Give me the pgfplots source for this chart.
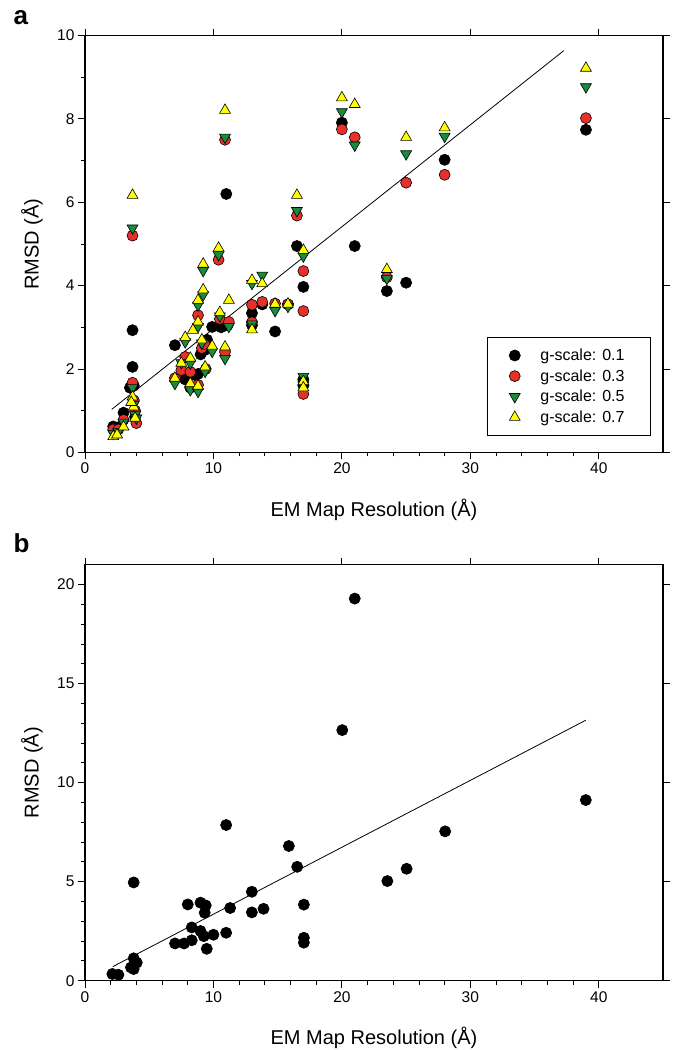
\documentclass[border=0pt]{standalone}
\usepackage{fontspec}
\setmainfont{Liberation Sans}
\usepackage{pgfplots}
\pgfplotsset{compat=1.18}
\definecolor{rred}{HTML}{E8302A}
\definecolor{ggreen}{HTML}{1A8A3C}
\definecolor{yyel}{HTML}{FFFF00}
\pgfplotsset{
 myaxis/.style={
  scale only axis, width=578pt, xmin=0, xmax=45, xtick={0,10,...,40}, minor x tick num=4,
  tick align=outside, xtick pos=left, ytick pos=left,
  major tick length=7pt, minor tick length=4pt,
  every tick/.style={black, line width=0.9pt},
  axis line style={line width=1.3pt},
  xticklabel style={font=\fontsize{15.5}{18}\selectfont},
  yticklabel style={font=\fontsize{15.5}{18}\selectfont},
  /pgf/number format/assume math mode=true,
  every axis x label/.style={at={(axis description cs:0.5,-0.137)}, anchor=center, font=\fontsize{20}{24}\selectfont},
  every axis y label/.style={at={(axis description cs:-0.0917,0.5)}, rotate=90, anchor=center, font=\fontsize{20}{24}\selectfont},
  xlabel={EM Map Resolution (Å)}, ylabel={RMSD (Å)},
 },
 topaxis/.style={
  scale only axis, width=578pt, xmin=0, xmax=45, xtick={0,10,...,40},
  tick align=outside, xtick pos=right, ytick pos=right,
  major tick length=7pt, every tick/.style={black, line width=0.9pt},
  xticklabel=\empty, yticklabel=\empty, axis line style={draw=none},
 },
 sblack/.style={only marks, mark=*, mark size=5.6pt, mark options={draw=black, fill=black, line width=0.6pt}},
 sred/.style={only marks, mark=*, mark size=5.5pt, mark options={draw=black, fill=rred, line width=0.6pt}},
 sgreen/.style={only marks, mark=triangle*, mark size=6.3pt, mark options={rotate=180, draw=black, fill=ggreen, line width=0.6pt}},
 syel/.style={only marks, mark=triangle*, mark size=6.3pt, mark options={draw=black, fill=yyel, line width=0.6pt}},
}
\newcommand{\lf}{\fontsize{16}{19}\selectfont}
\begin{document}
\begin{tikzpicture}
\useasboundingbox (0pt,0pt) rectangle (679pt,-1050pt);
\node[anchor=base west, font=\bfseries\fontsize{26}{30}\selectfont] at (10pt,-24pt) {a};
\node[anchor=base west, font=\bfseries\fontsize{26}{30}\selectfont] at (10pt,-552pt) {b};
% ---------- panel a ----------
\begin{axis}[myaxis, at={(85pt,-452.3pt)}, anchor=south west, height=416.7pt,
  ymin=0, ymax=10, ytick={0,2,...,10}, minor y tick num=1,
  legend style={at={(0.695,0.2767)}, anchor=north west, draw=black, line width=0.9pt,
    font=\lf, inner xsep=22pt, inner ysep=10pt, row sep=4.5pt,
    nodes={inner xsep=4pt, inner ysep=1.5pt},
    /tikz/every odd column/.append style={column sep=16pt}},
  legend cell align=left]
\addplot[sblack] coordinates {
(2.2,0.62) (2.6,0.60) (3.0,0.95) (3.5,1.55) (3.7,2.93) (3.7,2.05) (3.8,1.6) (3.9,0.85)
(7.0,2.57) (7.8,1.75) (8.2,1.55) (8.6,1.85) (8.8,1.88) (9.0,2.35) (9.3,2.45) (9.5,2.7)
(9.9,3.01) (10.6,3.0) (11.0,6.2) (11.1,3.05) (13.0,3.34) (13.0,3.05) (13.8,3.55) (14.8,2.90)
(15.8,3.55) (16.5,4.95) (17.0,3.97) (17.0,1.75) (17.0,1.6) (20.0,7.91) (21.0,4.95)
(23.5,3.87) (25.0,4.07) (28.0,7.02) (39.0,7.74)};
\addlegendentry{\lf g-scale: 0.1}
\addplot[sred] coordinates {
(2.2,0.55) (2.6,0.55) (3.0,0.78) (3.7,5.2) (3.7,1.67) (3.8,1.25) (3.9,1.0) (4.0,0.7)
(7.0,1.78) (7.8,2.29) (7.5,1.97) (8.2,1.93) (8.2,1.57) (8.8,3.29) (8.8,1.62) (9.1,2.5)
(9.3,2.6) (9.4,2.0) (10.4,4.62) (10.5,3.2) (10.9,2.41) (10.9,7.5) (11.2,3.13) (13.0,3.54)
(13.0,3.12) (13.8,3.61) (14.8,3.57) (15.8,3.55) (16.5,5.68) (17.0,4.35) (17.0,3.39)
(17.0,1.4) (20.0,7.75) (21.0,7.56) (23.5,4.2) (25.0,6.47) (28.0,6.66) (39.0,8.02)};
\addlegendentry{\lf g-scale: 0.3}
\addplot[sgreen] coordinates {
(2.2,0.45) (2.6,0.5) (3.0,0.72) (3.7,5.38) (3.7,1.55) (3.8,1.15) (3.9,0.9) (4.0,0.82)
(7.0,1.65) (7.8,2.65) (7.5,2.15) (8.2,2.14) (8.2,1.5) (8.8,3.53) (8.8,3.02) (8.8,1.46)
(9.1,2.62) (9.2,4.36) (9.2,3.78) (9.35,1.94) (9.9,2.42) (10.4,4.74) (10.5,3.27) (10.9,2.25)
(10.9,7.56) (11.2,3.02) (13.0,4.05) (13.0,3.08) (13.8,4.25) (14.8,3.40) (15.8,3.5)
(16.5,5.8) (17.0,4.71) (17.0,1.82) (17.0,1.62) (20.0,8.17) (21.0,7.37) (23.5,4.17)
(25.0,7.16) (28.0,7.58) (39.0,8.77)};
\addlegendentry{\lf g-scale: 0.5}
\addplot[syel] coordinates {
(2.2,0.38) (2.5,0.42) (3.0,0.61) (3.7,6.17) (3.7,1.33) (3.8,1.09) (3.9,0.82) (3.6,1.2)
(7.0,1.78) (7.8,2.76) (7.5,2.14) (8.2,2.26) (8.2,1.65) (8.8,3.65) (8.8,3.13) (8.8,1.59)
(8.4,2.93) (9.1,2.7) (9.2,4.52) (9.2,3.9) (9.35,2.05) (9.9,2.55) (10.4,4.9) (10.5,3.36)
(10.9,2.53) (10.9,8.21) (11.2,3.65) (13.0,4.13) (13.0,2.94) (13.8,4.05) (14.8,3.56)
(15.8,3.56) (16.5,6.17) (17.0,4.85) (17.0,1.7) (17.0,1.55) (20.0,8.51) (21.0,8.35)
(23.5,4.39) (25.0,7.56) (28.0,7.79) (39.0,9.22)};
\addlegendentry{\lf g-scale: 0.7}
\addplot[black, line width=0.8pt, forget plot] coordinates {(2.08,1.03) (37.28,9.64)};
\end{axis}
\begin{axis}[topaxis, at={(85pt,-452.3pt)}, anchor=south west, height=416.7pt,
  ymin=0, ymax=10, ytick={0,2,...,10}]
\end{axis}
% ---------- panel b ----------
\begin{axis}[myaxis, at={(85pt,-980.7pt)}, anchor=south west, height=416pt,
  ymin=0, ymax=21, ytick={0,5,...,20}, minor y tick num=4]
\addplot[sblack] coordinates {
(2.13,0.34) (2.6,0.30) (3.79,4.96) (3.79,1.13) (4.03,0.91) (3.58,0.67) (3.79,0.59)
(7.01,1.88) (7.71,1.88) (8.0,3.85) (8.31,2.04) (8.31,2.69) (8.99,3.94) (8.99,2.51)
(9.25,2.25) (9.4,3.80) (9.32,3.43) (9.48,1.61) (10.0,2.32) (10.99,7.86) (10.99,2.42)
(11.3,3.67) (12.99,4.49) (12.99,3.45) (13.9,3.63) (15.87,6.80) (16.52,5.75)
(17.04,3.84) (17.04,2.17) (17.04,1.92) (20.03,12.65) (21.0,19.29)
(23.54,5.03) (25.04,5.65) (28.04,7.54) (38.99,9.12)};
\addplot[black, line width=0.8pt] coordinates {(2.16,0.71) (38.99,13.15)};
\end{axis}
\begin{axis}[topaxis, at={(85pt,-980.7pt)}, anchor=south west, height=416pt,
  ymin=0, ymax=21, ytick={0,5,...,20}]
\end{axis}
\end{tikzpicture}
\end{document}
